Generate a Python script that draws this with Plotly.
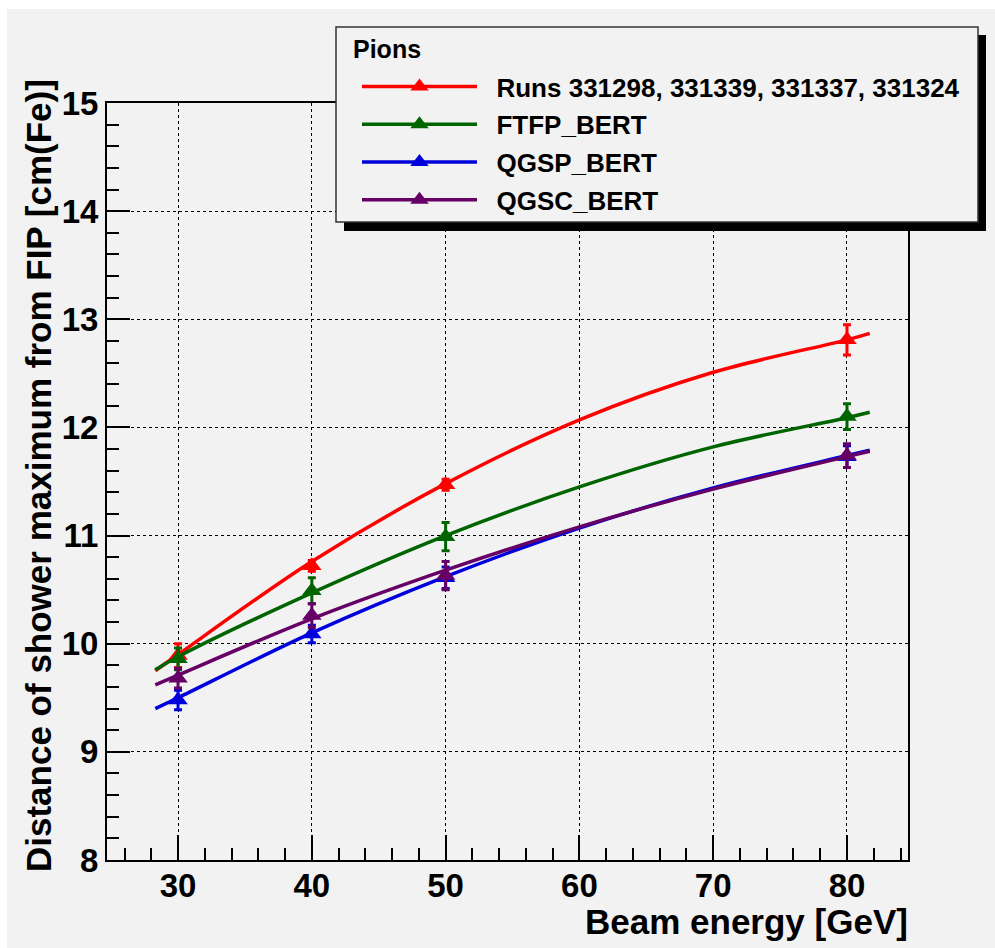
import plotly.graph_objects as go

# ---- data ----
energies = [30, 40, 50, 80]
series_names = ["Runs 331298, 331339, 331337, 331324", "FTFP_BERT", "QGSP_BERT", "QGSC_BERT"]

data_vals = [9.89, 10.72, 11.47, 12.81]
data_err = [0.11, 0.05, 0.05, 0.14]
ftfp_vals = [9.86, 10.49, 10.99, 12.10]
ftfp_err = [0.10, 0.12, 0.13, 0.12]
qgsp_vals = [9.48, 10.09, 10.61, 11.73]
qgsp_err = [0.09, 0.08, 0.10, 0.10]
qgsc_vals = [9.68, 10.26, 10.63, 11.74]
qgsc_err = [0.09, 0.11, 0.13, 0.11]

# fitted curves
fit_x = [28.3, 30, 40, 50, 60, 70, 80, 81.7]
data_fit = [9.75, 9.90, 10.76, 11.48, 12.07, 12.51, 12.81, 12.87]
ftfp_fit = [9.76, 9.88, 10.47, 11.00, 11.45, 11.82, 12.09, 12.14]
qgsp_fit = [9.40, 9.50, 10.10, 10.62, 11.07, 11.44, 11.74, 11.79]
qgsc_fit = [9.62, 9.71, 10.23, 10.68, 11.08, 11.43, 11.73, 11.78]

x_ticks = [30, 40, 50, 60, 70, 80]
y_ticks = [8, 9, 10, 11, 12, 13, 14, 15]

colors = ["#ff0000", "#006400", "#0000dd", "#660066"]
vals = [data_vals, ftfp_vals, qgsp_vals, qgsc_vals]
errs = [data_err, ftfp_err, qgsp_err, qgsc_err]
fits = [data_fit, ftfp_fit, qgsp_fit, qgsc_fit]

BG = "#f2f2f2"
FONT = "Liberation Sans, Arial, Helvetica, sans-serif"

fig = go.Figure()

for i, name in enumerate(series_names):
    g = "g%d" % i
    fig.add_trace(go.Scatter(
        x=fit_x, y=fits[i], mode="lines", line=dict(color=colors[i], width=3.5, shape="spline"),
        showlegend=False, legendgroup=g, hoverinfo="skip"))
    fig.add_trace(go.Scatter(
        x=energies, y=vals[i], mode="markers",
        marker=dict(symbol="triangle-up", size=17, color=colors[i]),
        error_y=dict(type="data", array=errs[i], visible=True, color=colors[i], thickness=3, width=4),
        showlegend=False, legendgroup=g))
    # legend entry
    fig.add_trace(go.Scatter(
        x=[None], y=[None], mode="lines+markers", name="<b>\u00a0\u00a0" + name + "</b>",
        line=dict(color=colors[i], width=3.5),
        marker=dict(symbol="triangle-up", size=16, color=colors[i]),
        legendgroup=g, showlegend=True))

# paper coords relative to plot area (x 107..908, y 103..860 in pixels)
def px_x(p):
    return (p - 107) / 801.0

def px_y(p):
    return (860 - p) / 757.0

shapes = [
    dict(type="rect", xref="paper", yref="paper", x0=px_x(344), x1=px_x(986), y0=px_y(231), y1=px_y(35),
         fillcolor="black", line=dict(width=0), layer="above"),
    dict(type="rect", xref="paper", yref="paper", x0=px_x(336), x1=px_x(978), y0=px_y(222), y1=px_y(27),
         fillcolor=BG, line=dict(color="#333333", width=1.5), layer="above"),
    # white border strips of canvas
    dict(type="rect", xref="paper", yref="paper", x0=px_x(0), x1=px_x(7), y0=px_y(948), y1=px_y(0),
         fillcolor="white", line=dict(width=0), layer="below"),
    dict(type="rect", xref="paper", yref="paper", x0=px_x(0), x1=px_x(995), y0=px_y(9), y1=px_y(0),
         fillcolor="white", line=dict(width=0), layer="below"),
]

annotations = [
    dict(text="<b>Distance of shower maximum from FIP [cm(Fe)]</b>", xref="paper", yref="paper",
         x=px_x(38), y=px_y(476), textangle=-90, showarrow=False, xanchor="center", yanchor="middle",
         font=dict(family=FONT, size=35, color="black")),
    dict(text="<b>Beam energy [GeV]</b>", xref="paper", yref="paper",
         x=px_x(910), y=px_y(921), showarrow=False, xanchor="right", yanchor="middle",
         font=dict(family=FONT, size=35, color="black")),
    dict(text="<b>Pions</b>", xref="paper", yref="paper",
         x=px_x(351), y=px_y(49), showarrow=False, xanchor="left", yanchor="middle",
         font=dict(family=FONT, size=25, color="black")),
]

fig.update_layout(
    width=995, height=948,
    margin=dict(l=107, r=87, t=103, b=88),
    paper_bgcolor=BG, plot_bgcolor=BG,
    shapes=shapes, annotations=annotations,
    showlegend=True,
    legend=dict(
        x=px_x(357), y=px_y(63), xanchor="left", yanchor="top",
        bgcolor="rgba(0,0,0,0)", borderwidth=0,
        font=dict(family=FONT, size=26, color="black"),
        itemwidth=115, tracegroupgap=1, traceorder="grouped",
    ),
    xaxis=dict(
        range=[24.69, 84.56], tickvals=x_ticks, ticktext=["<b>%d</b>" % v for v in x_ticks],
        ticks="inside", ticklen=25, tickwidth=2, tickcolor="black",
        showline=True, linecolor="black", linewidth=2, mirror=True,
        showgrid=True, gridcolor="black", griddash="dot", gridwidth=1,
        zeroline=False, ticklabelstandoff=-5,
        tickfont=dict(family=FONT, size=33, color="black"),
        minor=dict(dtick=2, tick0=30, ticks="inside", ticklen=12, tickwidth=1.5, tickcolor="black", showgrid=False),
    ),
    yaxis=dict(
        range=[8, 15], tickvals=y_ticks, ticktext=["<b>%d</b>" % v for v in y_ticks],
        ticks="inside", ticklen=23, tickwidth=2, tickcolor="black",
        showline=True, linecolor="black", linewidth=2, mirror=True,
        showgrid=True, gridcolor="black", griddash="dot", gridwidth=1,
        zeroline=False,
        tickfont=dict(family=FONT, size=33, color="black"),
        minor=dict(dtick=0.2, tick0=8, ticks="inside", ticklen=12, tickwidth=1.5, tickcolor="black", showgrid=False),
    ),
)

fig.write_html("out.html")
